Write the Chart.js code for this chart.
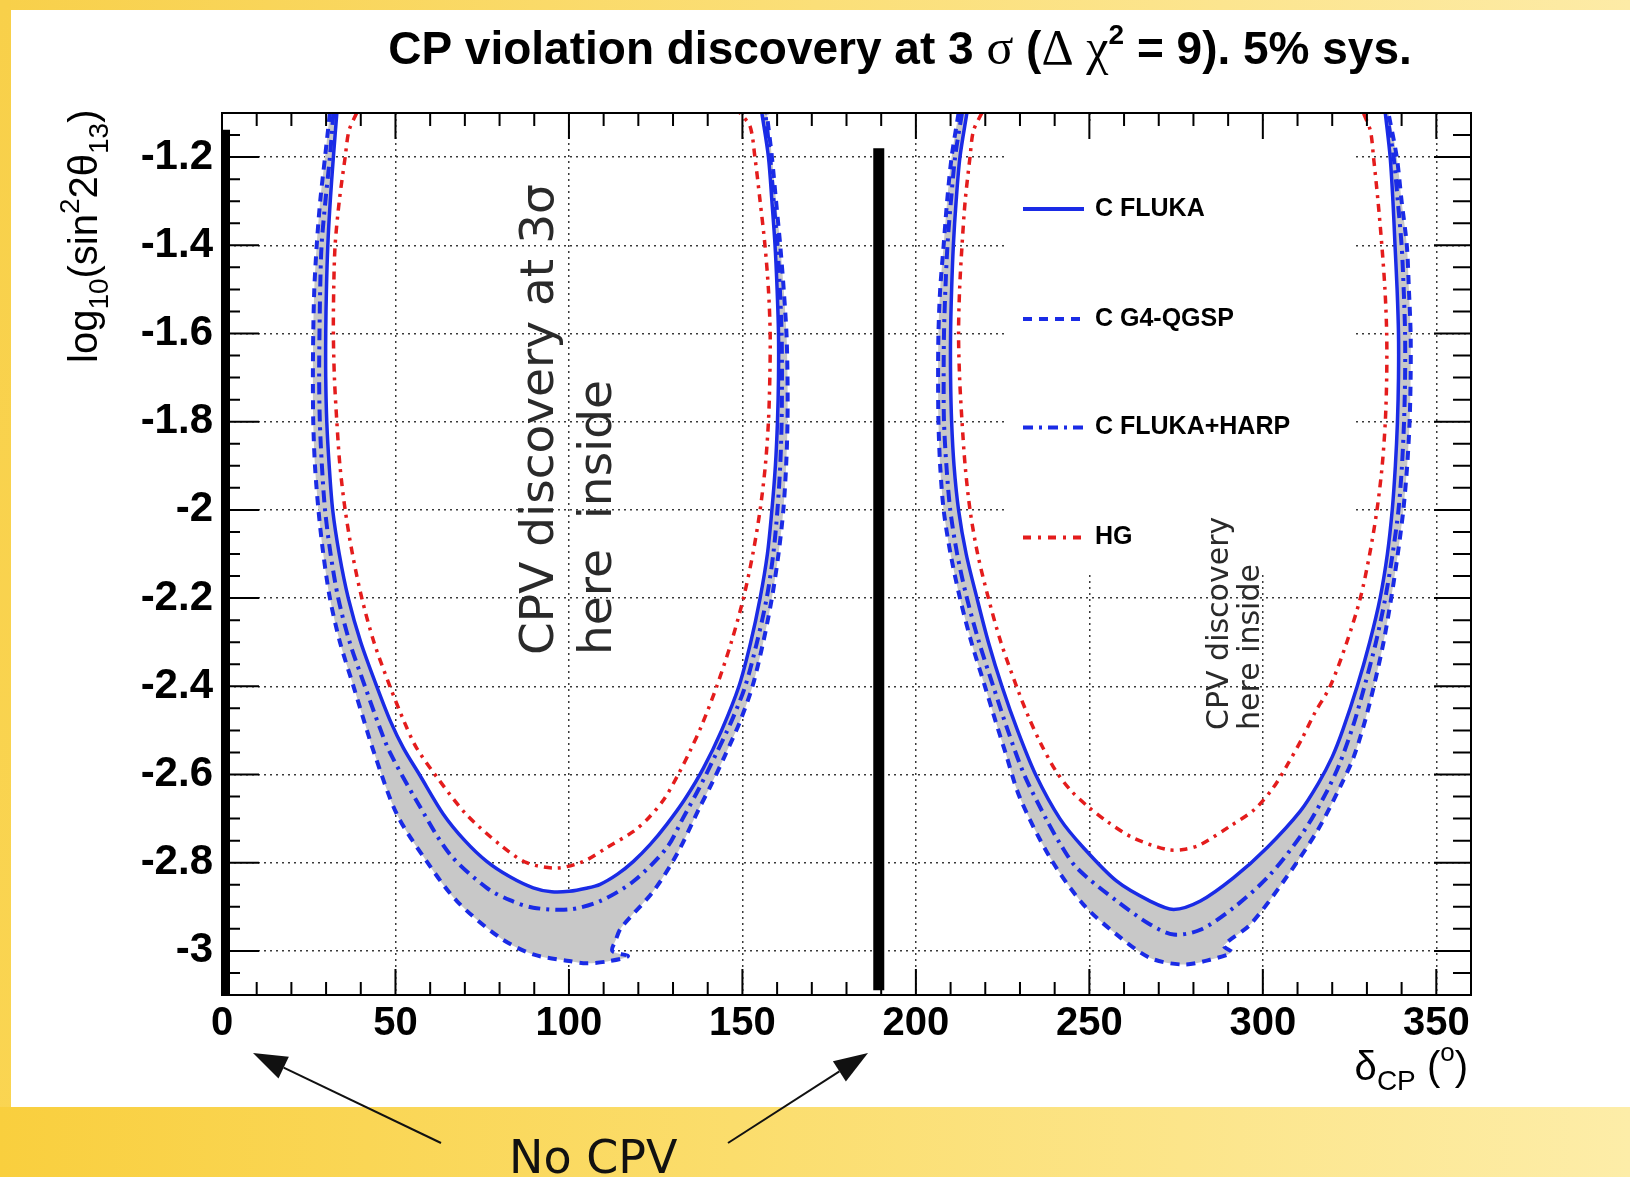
<!DOCTYPE html>
<html><head><meta charset="utf-8">
<script src="https://cdn.jsdelivr.net/npm/chart.js@4.4.1/dist/chart.umd.min.js"></script>
<style>
html,body{margin:0;padding:0;background:#fff;}
#page{position:relative;width:1630px;height:1177px;overflow:hidden;background:#fff;}
#yt{position:absolute;left:0;top:0;width:1630px;height:10px;background:linear-gradient(to right,#f8d04a,#fbdf78 50%,#fdeba6);}
#yl{position:absolute;left:0;top:0;width:11px;height:1177px;background:linear-gradient(to bottom,#f8d04a,#fad552);}
#yb{position:absolute;left:0;top:1107px;width:1630px;height:70px;background:linear-gradient(to right,#f9cf3e,#fbdd6c 45%,#fdeda8);}
canvas{position:absolute;left:0;top:0;}
</style></head>
<body><div id="page"><div id="yt"></div><div id="yl"></div><div id="yb"></div>
<canvas id="c" width="1630" height="1177"></canvas></div>
<script>
// ---------- data (delta_CP in degrees, log10(sin^2 2theta13)) ----------
const xTickValues = [0, 50, 100, 150, 200, 250, 300, 350];
const xTickLabels = ['0', '50', '100', '150', '200', '250', '300', '350'];
const yTickValues = [-3.0, -2.8, -2.6, -2.4, -2.2, -2.0, -1.8, -1.6, -1.4, -1.2];
const yTickLabels = ['-3', '-2.8', '-2.6', '-2.4', '-2.2', '-2', '-1.8', '-1.6', '-1.4', '-1.2'];
const seriesLabels = ['C FLUKA', 'C G4-QGSP', 'C FLUKA+HARP', 'HG'];

// C FLUKA (solid)
const flukaL = [[33.1,-1.1],[32.1,-1.2],[31.2,-1.3],[30.5,-1.4],[30.1,-1.5],[29.9,-1.6],[29.9,-1.7],[30.2,-1.8],[30.9,-1.9],[31.9,-2.0],[33.8,-2.1],[36.4,-2.2],[40.0,-2.3],[44.6,-2.4],[48.6,-2.48],[52.3,-2.54],[56.9,-2.6],[63.8,-2.69],[70.0,-2.75],[76.3,-2.797],[83.0,-2.832],[89.7,-2.857],[95.0,-2.866],[100.1,-2.865],[105.0,-2.858],[109.0,-2.849],[114.0,-2.826],[118.6,-2.797],[123.5,-2.758],[128.2,-2.713],[133.5,-2.655],[138.8,-2.585],[144.0,-2.5],[149.0,-2.4],[152.4,-2.3],[155.1,-2.2],[157.2,-2.1],[158.5,-2.0],[159.5,-1.9],[160.1,-1.8],[160.4,-1.7],[160.4,-1.6],[160.0,-1.5],[159.4,-1.4],[158.5,-1.3],[157.5,-1.2],[155.6,-1.1]];
const flukaR = [[214.7,-1.1],[212.7,-1.2],[211.6,-1.3],[210.8,-1.4],[210.3,-1.5],[210.0,-1.6],[210.0,-1.7],[210.3,-1.8],[211.0,-1.9],[212.3,-2.0],[214.5,-2.1],[217.6,-2.2],[220.9,-2.3],[224.8,-2.4],[229.3,-2.5],[234.5,-2.6],[241.5,-2.7],[248.3,-2.766],[257.9,-2.842],[267.5,-2.887],[274.3,-2.906],[282.0,-2.887],[291.6,-2.834],[301.2,-2.766],[310.8,-2.683],[316.0,-2.62],[320.0,-2.56],[323.0,-2.5],[327.2,-2.4],[330.8,-2.3],[333.8,-2.2],[335.9,-2.1],[337.3,-2.0],[338.2,-1.9],[338.8,-1.8],[339.1,-1.7],[339.1,-1.6],[338.7,-1.5],[338.1,-1.4],[337.5,-1.3],[336.7,-1.2],[335.3,-1.1]];
// C G4-QGSP (dashed)
const g4L = [[31.1,-1.1],[29.7,-1.2],[28.3,-1.3],[27.3,-1.4],[26.6,-1.5],[26.3,-1.6],[26.2,-1.7],[26.3,-1.8],[26.8,-1.9],[27.8,-2.0],[29.2,-2.1],[31.1,-2.2],[34.0,-2.3],[37.9,-2.4],[41.0,-2.48],[43.8,-2.55],[50.4,-2.69],[59.0,-2.797],[67.7,-2.887],[80.1,-2.970],[89.7,-3.008],[100.1,-3.023],[105.0,-3.028],[111.0,-3.024],[117.0,-3.012],[112.5,-3.0],[113.5,-2.975],[115.0,-2.948],[124.3,-2.865],[131.1,-2.781],[137.6,-2.676],[141.2,-2.62],[144.8,-2.56],[149.3,-2.48],[152.9,-2.4],[156.0,-2.3],[158.5,-2.2],[160.4,-2.1],[161.8,-2.0],[162.6,-1.9],[163.0,-1.8],[163.0,-1.7],[162.7,-1.6],[161.9,-1.5],[160.9,-1.4],[159.7,-1.3],[158.5,-1.2],[157.0,-1.1]];
const g4R = [[212.3,-1.1],[210.3,-1.2],[209.0,-1.3],[208.0,-1.4],[207.0,-1.5],[206.5,-1.6],[206.4,-1.7],[206.5,-1.8],[207.0,-1.9],[208.0,-2.0],[210.0,-2.1],[212.7,-2.2],[216.0,-2.3],[219.9,-2.4],[223.0,-2.48],[225.8,-2.55],[230.0,-2.653],[238.7,-2.789],[248.3,-2.895],[257.9,-2.963],[267.5,-3.016],[277.1,-3.031],[284.8,-3.02],[291.0,-3.003],[288.8,-2.988],[296.4,-2.94],[306.0,-2.842],[315.6,-2.729],[322.6,-2.623],[326.2,-2.56],[329.4,-2.48],[332.0,-2.4],[334.8,-2.3],[337.0,-2.2],[338.9,-2.1],[340.5,-2.0],[341.6,-1.9],[342.3,-1.8],[342.6,-1.7],[342.6,-1.6],[342.1,-1.5],[341.5,-1.4],[340.0,-1.3],[338.6,-1.2],[336.2,-1.1]];
// C FLUKA+HARP (dash-dot)
const harpL = [[32.1,-1.1],[31.1,-1.2],[29.8,-1.3],[28.7,-1.4],[28.3,-1.5],[28.1,-1.6],[28.0,-1.7],[28.2,-1.8],[28.8,-1.9],[29.7,-2.0],[31.3,-2.1],[33.5,-2.2],[36.8,-2.3],[41.2,-2.4],[45.3,-2.49],[48.4,-2.55],[56.1,-2.66],[65.7,-2.781],[76.3,-2.857],[83.0,-2.885],[89.7,-2.902],[100.1,-2.906],[109.0,-2.887],[118.6,-2.842],[128.2,-2.766],[132.8,-2.70],[137.6,-2.63],[142.0,-2.56],[146.8,-2.48],[150.8,-2.4],[154.2,-2.3],[157.0,-2.2],[158.9,-2.1],[160.1,-2.0],[160.9,-1.9],[161.3,-1.8],[161.4,-1.7],[161.3,-1.6],[160.8,-1.5],[160.1,-1.4],[159.0,-1.3],[158.0,-1.2],[156.6,-1.1]];
const harpR = [[213.3,-1.1],[211.3,-1.2],[210.1,-1.3],[209.1,-1.4],[208.5,-1.5],[208.1,-1.6],[208.0,-1.7],[208.1,-1.8],[208.8,-1.9],[209.9,-2.0],[211.9,-2.1],[214.7,-2.2],[218.2,-2.3],[222.3,-2.4],[226.5,-2.5],[231.2,-2.6],[237.5,-2.7],[241.8,-2.76],[246.4,-2.812],[257.9,-2.887],[267.5,-2.94],[274.3,-2.963],[282.0,-2.952],[291.6,-2.902],[302.1,-2.827],[311.8,-2.729],[318.0,-2.645],[321.9,-2.58],[326.0,-2.49],[329.3,-2.4],[332.6,-2.3],[335.3,-2.2],[337.4,-2.1],[339.1,-2.0],[340.1,-1.9],[340.7,-1.8],[341.0,-1.7],[341.0,-1.6],[340.6,-1.5],[340.0,-1.4],[338.9,-1.3],[337.7,-1.2],[335.7,-1.1]];
// HG (red dash-dot)
const hgL = [[38.8,-1.1],[36.6,-1.14],[35.5,-1.2],[33.8,-1.3],[32.6,-1.4],[32.2,-1.5],[32.1,-1.6],[32.4,-1.7],[33.1,-1.8],[34.0,-1.9],[35.5,-2.0],[37.6,-2.1],[40.3,-2.2],[43.8,-2.3],[48.4,-2.4],[52.5,-2.48],[56.1,-2.54],[62.8,-2.615],[70.5,-2.691],[80.1,-2.759],[87.8,-2.800],[96.5,-2.812],[104.2,-2.797],[110.9,-2.766],[118.6,-2.729],[123.0,-2.698],[127.5,-2.655],[131.5,-2.6],[135.0,-2.545],[138.2,-2.49],[142.6,-2.4],[146.8,-2.3],[150.3,-2.2],[153.0,-2.1],[155.1,-2.0],[156.6,-1.9],[157.5,-1.8],[157.9,-1.7],[158.0,-1.6],[157.5,-1.5],[156.5,-1.4],[155.1,-1.3],[153.6,-1.2],[152.2,-1.13],[149.3,-1.1]];
const hgR = [[219.0,-1.1],[216.6,-1.14],[215.6,-1.2],[214.2,-1.3],[213.3,-1.4],[212.6,-1.5],[212.3,-1.6],[212.6,-1.7],[213.3,-1.8],[214.2,-1.9],[215.6,-2.0],[217.8,-2.1],[220.9,-2.2],[224.5,-2.3],[229.0,-2.4],[232.5,-2.47],[236.0,-2.53],[240.2,-2.59],[244.5,-2.635],[249.5,-2.672],[255.0,-2.706],[262.7,-2.744],[272.3,-2.77],[277.1,-2.77],[282.0,-2.759],[290.6,-2.717],[297.5,-2.68],[303.0,-2.63],[307.3,-2.575],[311.2,-2.52],[315.0,-2.46],[319.4,-2.4],[324.2,-2.3],[328.1,-2.2],[330.8,-2.1],[332.9,-2.0],[334.4,-1.9],[335.3,-1.8],[335.7,-1.7],[335.7,-1.6],[335.2,-1.5],[334.3,-1.4],[333.2,-1.3],[331.9,-1.2],[331.0,-1.14],[329.0,-1.1]];
// "No CPV" markers (thick black vertical bars)
const noCpvX = [0, 189.3];
const noCpvTop = [-1.138, -1.18];
const noCpvBottom = [-3.1, -3.089];

// ---------- styling ----------
const BLUE = '#1a2be6';
const RED = '#e41c1c';
const GREY = '#c8c8c8';
const DASHED = [9, 7];
const DASHDOT = [12, 6, 3, 6];
const REDDASH = [8, 6, 3, 6];

const pts = a => a.map(([x, y]) => ({x, y}));
const band = (outer, inner) => pts(outer.concat(inner.slice().reverse()));
const line = (label, data, color, width, dash, order) => ({
  label, data: pts(data), showLine: true, borderColor: color, borderWidth: width,
  borderDash: dash, pointRadius: 0, pointHoverRadius: 0, fill: false,
  tension: 0.3, order, clip: 0
});
const bandSet = (data) => ({
  label: 'band', data, showLine: true, borderColor: 'rgba(0,0,0,0)', borderWidth: 1,
  backgroundColor: GREY, fill: 'shape', pointRadius: 0, tension: 0.3, order: 9, clip: 0
});

const datasets = [
  bandSet(band(g4L, flukaL)),
  bandSet(band(g4R, flukaR)),
  line(seriesLabels[1], g4L, BLUE, 4, DASHED, 5),
  line(seriesLabels[1], g4R, BLUE, 4, DASHED, 5),
  line(seriesLabels[2], harpL, BLUE, 4, DASHDOT, 4),
  line(seriesLabels[2], harpR, BLUE, 4, DASHDOT, 4),
  line(seriesLabels[0], flukaL, BLUE, 3.5, [], 3),
  line(seriesLabels[0], flukaR, BLUE, 3.5, [], 3),
  line(seriesLabels[3], hgL, RED, 3.5, REDDASH, 2),
  line(seriesLabels[3], hgR, RED, 3.5, REDDASH, 2),
];
noCpvX.forEach((x, i) => {
  datasets.push({
    label: 'noCPV', data: [{x, y: noCpvTop[i]}, {x, y: noCpvBottom[i]}], showLine: true,
    borderColor: '#000', borderWidth: i === 0 ? 16 : 11, pointRadius: 0, order: 1, clip: 0
  });
});

const legendStyles = [
  {label: seriesLabels[0], color: BLUE, dash: [], w: 4},
  {label: seriesLabels[1], color: BLUE, dash: DASHED, w: 4},
  {label: seriesLabels[2], color: BLUE, dash: [10, 6, 3, 6], w: 4},
  {label: seriesLabels[3], color: RED, dash: [8, 7, 3, 7], w: 4},
];

const SANS = '"Liberation Sans", Arial, sans-serif';
const SERIF = '"Liberation Serif", serif';
const DJV = '"DejaVu Sans", sans-serif';

function drawRuns(ctx, runs, x, y) {
  let cx = x;
  for (const r of runs) {
    ctx.font = r.f;
    ctx.fillText(r.t, cx, y + (r.dy || 0));
    cx += ctx.measureText(r.t).width;
  }
  return cx - x;
}
function runsWidth(ctx, runs) {
  let w = 0;
  for (const r of runs) { ctx.font = r.f; w += ctx.measureText(r.t).width; }
  return w;
}
function arrow(ctx, x1, y1, x2, y2) {
  const ang = Math.atan2(y2 - y1, x2 - x1), L = 34, W = 12;
  const bx = x2 - L * Math.cos(ang), by = y2 - L * Math.sin(ang);
  ctx.beginPath(); ctx.moveTo(x1, y1); ctx.lineTo(bx, by); ctx.stroke();
  ctx.beginPath(); ctx.moveTo(x2, y2);
  ctx.lineTo(bx + W * Math.sin(ang), by - W * Math.cos(ang));
  ctx.lineTo(bx - W * Math.sin(ang), by + W * Math.cos(ang));
  ctx.closePath(); ctx.fill();
}

const decor = {
  id: 'decor',
  beforeDatasetsDraw(chart) {
    const {ctx} = chart;
    ctx.save();
    ctx.fillStyle = '#fff';
    ctx.fillRect(1008, 122, 347, 453); // legend box
    ctx.restore();
  },
  afterDatasetsDraw(chart) {
    const {ctx, chartArea: a, scales: {x, y}} = chart;
    ctx.save();
    ctx.strokeStyle = '#000';
    ctx.lineWidth = 2;
    ctx.strokeRect(a.left, a.top, a.right - a.left, a.bottom - a.top);
    ctx.beginPath();
    for (let k = 0; k <= 36; k++) {
      const v = k * 10, px = x.getPixelForValue(v);
      const len = v % 50 === 0 ? 26 : 13;
      ctx.moveTo(px, a.bottom); ctx.lineTo(px, a.bottom - len);
      ctx.moveTo(px, a.top); ctx.lineTo(px, a.top + len);
    }
    for (let k = 0; k <= 40; k++) {
      const v = -3.1 + k * 0.05, py = y.getPixelForValue(v);
      const q = v / 0.2, major = Math.abs(q - Math.round(q)) < 1e-6;
      const len = major ? 37 : 18;
      ctx.moveTo(a.left, py); ctx.lineTo(a.left + len, py);
      ctx.moveTo(a.right, py); ctx.lineTo(a.right - len, py);
    }
    ctx.stroke();
    ctx.restore();
  },
  afterDraw(chart) {
    const {ctx} = chart;
    ctx.save();
    ctx.fillStyle = '#000';
    ctx.textAlign = 'left';
    ctx.textBaseline = 'alphabetic';

    // title
    const B = 'bold 46px ' + SANS, G = '50px ' + SERIF;
    const title = [
      {t: 'CP violation discovery at 3 ', f: B}, {t: 'σ', f: G}, {t: ' (', f: B},
      {t: 'Δ', f: G}, {t: ' ', f: B}, {t: 'χ', f: G}, {t: '2', f: 'bold 28px ' + SANS, dy: -20},
      {t: ' = 9). 5% sys.', f: B}
    ];
    drawRuns(ctx, title, 900 - runsWidth(ctx, title) / 2, 64);

    // y axis title (rotated)
    ctx.save();
    ctx.translate(97, 363); ctx.rotate(-Math.PI / 2);
    drawRuns(ctx, [
      {t: 'log', f: '40px ' + SANS}, {t: '10', f: '28px ' + SANS, dy: 11},
      {t: '(sin', f: '40px ' + SANS}, {t: '2', f: '28px ' + SANS, dy: -18},
      {t: '2θ', f: '40px ' + SANS}, {t: '13', f: '28px ' + SANS, dy: 11},
      {t: ')', f: '40px ' + SANS}
    ], 0, 0);
    ctx.restore();

    // x axis title
    const xt = [
      {t: 'δ', f: '40px ' + SANS}, {t: 'CP', f: '28px ' + SANS, dy: 10},
      {t: ' (', f: '40px ' + SANS}, {t: 'o', f: '26px ' + SANS, dy: -19},
      {t: ')', f: '40px ' + SANS}
    ];
    drawRuns(ctx, xt, 1468 - runsWidth(ctx, xt), 1080);

    // legend
    const rows = [209, 319, 427.5, 537.5];
    legendStyles.forEach((s, i) => {
      ctx.save();
      ctx.strokeStyle = s.color; ctx.lineWidth = s.w; ctx.setLineDash(s.dash);
      ctx.beginPath(); ctx.moveTo(1023, rows[i]); ctx.lineTo(1084, rows[i]); ctx.stroke();
      ctx.restore();
      ctx.font = 'bold 25px ' + SANS;
      ctx.textBaseline = 'middle';
      ctx.fillText(s.label, 1095, rows[i]);
      ctx.textBaseline = 'alphabetic';
    });

    // annotations inside lobes
    ctx.fillStyle = '#2a2a2a';
    const rot = (txt, font, bx, by) => {
      ctx.save(); ctx.translate(bx, by); ctx.rotate(-Math.PI / 2);
      ctx.font = font; ctx.fillText(txt, 0, 0); ctx.restore();
    };
    rot('CPV discovery at 3σ', '47px ' + DJV, 553, 655);
    rot('here  inside', '47px ' + DJV, 611, 655);
    rot('CPV discovery', '30px ' + DJV, 1228, 730);
    rot('here inside', '30px ' + DJV, 1259, 730);

    // No CPV with arrows
    ctx.fillStyle = '#111';
    ctx.font = '46px ' + DJV;
    ctx.fillText('No CPV', 509, 1173);
    ctx.strokeStyle = '#111'; ctx.lineWidth = 2;
    arrow(ctx, 441, 1143, 253, 1053);
    arrow(ctx, 728, 1143, 868, 1053);
    ctx.restore();
  }
};

Chart.defaults.font.family = SANS;
new Chart(document.getElementById('c'), {
  type: 'scatter',
  data: {datasets},
  plugins: [decor],
  options: {
    responsive: false,
    animation: false,
    devicePixelRatio: 1,
    events: [],
    layout: {padding: {left: 122, right: 159, top: 113, bottom: 122}},
    plugins: {legend: {display: false}, tooltip: {enabled: false}, title: {display: false}},
    scales: {
      x: {
        type: 'linear', min: 0, max: 360,
        afterBuildTicks: s => { s.ticks = xTickValues.map(v => ({value: v})); },
        afterFit: s => { s.height = 60; },
        ticks: {
          autoSkip: false, maxRotation: 0, padding: 5, color: '#000',
          font: {family: SANS, size: 40, weight: 'bold'},
          callback: (v, i) => xTickLabels[i]
        },
        grid: {drawTicks: false, color: '#3a3a3a', lineWidth: 1.5},
        border: {display: false, dash: [2, 4]}
      },
      y: {
        type: 'linear', min: -3.1, max: -1.1,
        afterBuildTicks: s => { s.ticks = yTickValues.map(v => ({value: v})); },
        afterFit: s => { s.width = 100; },
        ticks: {
          autoSkip: false, padding: 9, color: '#000',
          font: {family: SANS, size: 42, weight: 'bold'},
          callback: (v, i) => yTickLabels[i]
        },
        grid: {drawTicks: false, color: '#3a3a3a', lineWidth: 1.5},
        border: {display: false, dash: [2, 4]}
      }
    }
  }
});
</script></body></html>
